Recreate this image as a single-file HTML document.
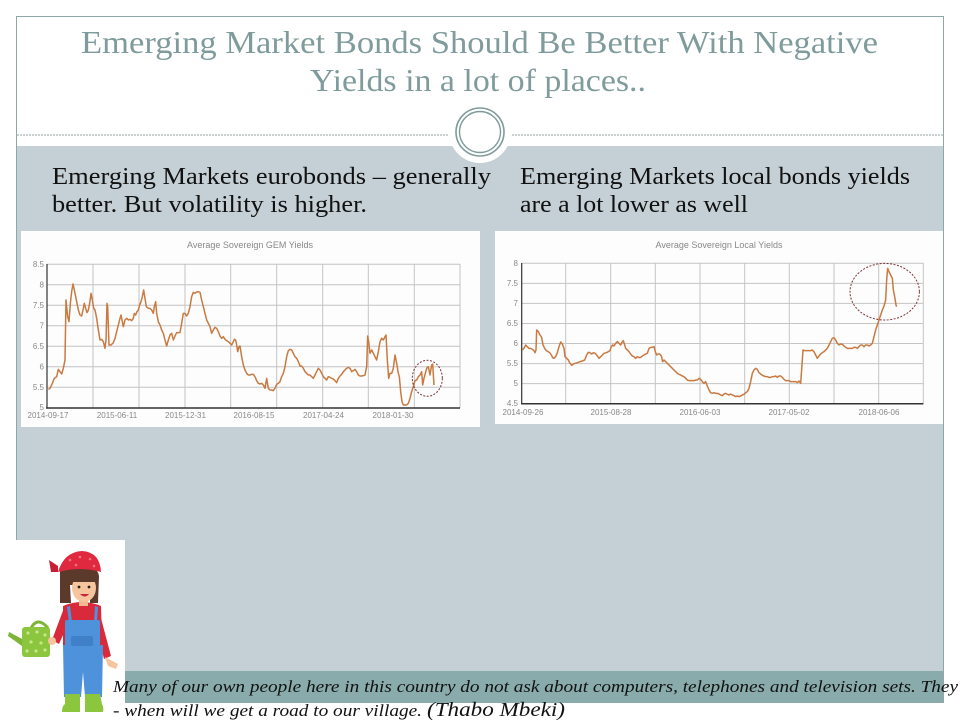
<!DOCTYPE html>
<html><head><meta charset="utf-8"><style>
html,body{margin:0;padding:0;background:#fff;width:960px;height:720px;overflow:hidden}
svg{display:block}
</style></head><body>
<svg width="960" height="720" viewBox="0 0 960 720" xmlns="http://www.w3.org/2000/svg">
<rect x="0" y="0" width="960" height="720" fill="#fff"/>
<!-- frame -->
<line x1="16.5" y1="16" x2="16.5" y2="540" stroke="#8fa7a7" stroke-width="1"/>
<line x1="16" y1="16.5" x2="943.5" y2="16.5" stroke="#8fa7a7" stroke-width="1"/>
<line x1="943.5" y1="16" x2="943.5" y2="703" stroke="#8fa7a7" stroke-width="1"/>
<!-- title -->
<g font-family="Liberation Serif, serif" fill="#7f9b9b" font-size="32">
<text x="81" y="53" textLength="797" lengthAdjust="spacingAndGlyphs">Emerging Market Bonds Should Be Better With Negative</text>
<text x="310" y="91" textLength="336" lengthAdjust="spacingAndGlyphs">Yields in a lot of places..</text>
</g>
<!-- dashed line -->
<line x1="17" y1="135" x2="943" y2="135" stroke="#9aa6a6" stroke-width="1" stroke-dasharray="2,1"/>
<!-- panel -->
<rect x="17" y="146" width="926" height="525" fill="#c5d0d6"/>
<!-- circle ornament -->
<circle cx="480" cy="132" r="31" fill="#fff"/>
<circle cx="480" cy="132" r="24" fill="none" stroke="#7f9a9a" stroke-width="1.6"/>
<circle cx="480" cy="132" r="20.5" fill="none" stroke="#7f9a9a" stroke-width="1.4"/>
<!-- subheads -->
<g font-family="Liberation Serif, serif" fill="#111" font-size="24">
<text x="52" y="184" textLength="439" lengthAdjust="spacingAndGlyphs">Emerging Markets eurobonds – generally</text>
<text x="52" y="212" textLength="315" lengthAdjust="spacingAndGlyphs">better. But volatility is higher.</text>
<text x="520" y="184" textLength="390" lengthAdjust="spacingAndGlyphs">Emerging Markets local bonds yields</text>
<text x="520" y="212" textLength="228" lengthAdjust="spacingAndGlyphs">are a lot lower as well</text>
</g>

<!-- LEFT CHART -->
<rect x="21" y="231" width="459" height="196" fill="#fdfdfd"/>
<text x="250" y="248" font-family="Liberation Sans, sans-serif" font-size="9" fill="#888" text-anchor="middle">Average Sovereign GEM Yields</text>
<g stroke="#c4c4c4" stroke-width="1">
<line x1="47" y1="264.3" x2="460" y2="264.3"/>
<line x1="47" y1="284.8" x2="460" y2="284.8"/>
<line x1="47" y1="305.3" x2="460" y2="305.3"/>
<line x1="47" y1="325.8" x2="460" y2="325.8"/>
<line x1="47" y1="346.3" x2="460" y2="346.3"/>
<line x1="47" y1="366.8" x2="460" y2="366.8"/>
<line x1="47" y1="387.2" x2="460" y2="387.2"/>
<line x1="93" y1="264" x2="93" y2="408"/>
<line x1="139" y1="264" x2="139" y2="408"/>
<line x1="185" y1="264" x2="185" y2="408"/>
<line x1="230.7" y1="264" x2="230.7" y2="408"/>
<line x1="276.7" y1="264" x2="276.7" y2="408"/>
<line x1="322.7" y1="264" x2="322.7" y2="408"/>
<line x1="368.3" y1="264" x2="368.3" y2="408"/>
<line x1="414.3" y1="264" x2="414.3" y2="408"/>
<line x1="460" y1="264" x2="460" y2="408"/>
</g>
<line x1="47" y1="264" x2="47" y2="408.5" stroke="#333" stroke-width="1.2"/>
<line x1="46" y1="408" x2="460" y2="408" stroke="#333" stroke-width="1.5"/>
<g font-family="Liberation Sans, sans-serif" font-size="8" fill="#888" text-anchor="end">
<text x="44" y="267">8.5</text><text x="44" y="287.5">8</text><text x="44" y="308">7.5</text><text x="44" y="328.5">7</text>
<text x="44" y="349">6.5</text><text x="44" y="369.5">6</text><text x="44" y="390">5.5</text><text x="44" y="410">5</text>
</g>
<g font-family="Liberation Sans, sans-serif" font-size="8" fill="#888" text-anchor="middle">
<text x="48" y="418">2014-09-17</text><text x="117" y="418">2015-06-11</text><text x="185.5" y="418">2015-12-31</text>
<text x="254" y="418">2016-08-15</text><text x="323.5" y="418">2017-04-24</text><text x="393" y="418">2018-01-30</text>
</g>
<g transform="translate(45,260) scale(0.33333)">
<polyline fill="none" stroke="#c97a41" stroke-width="1.5" vector-effect="non-scaling-stroke" stroke-linejoin="round" points="10,388 15,385 22,370 28,355 35,350 40,328 45,335 50,342 55,325 60,300 63,120 68,170 72,185 76,130 80,95 84,72 88,90 92,110 96,130 100,150 105,165 110,168 114,150 118,130 122,145 126,158 130,150 134,130 138,100 142,120 146,145 150,150 155,175 160,210 165,240 170,238 175,245 180,265 183,240 186,130 188,140 192,255 198,255 205,248 210,235 215,215 220,195 225,175 228,165 232,185 235,200 240,180 245,175 250,180 255,178 260,182 265,175 268,160 272,165 276,155 280,150 284,135 288,125 292,110 296,90 300,115 304,140 310,145 315,145 320,150 325,160 328,140 332,125 335,160 340,185 345,195 350,210 355,220 360,240 365,258 370,240 375,225 380,220 385,240 390,228 395,218 400,218 405,218 410,190 415,160 420,160 425,168 430,160 435,140 440,110 445,97 450,100 455,96 460,95 465,97 470,120 475,140 480,160 485,180 490,190 495,200 500,220 505,210 510,202 515,205 520,215 525,228 530,235 535,230 540,238 545,242 550,245 555,250 560,255 565,245 568,238 572,240 575,255 578,275 582,260 585,258 590,290 595,315 600,330 605,340 610,345 615,345 620,343 625,343 630,350 630,350"/>
</g>
<g transform="translate(250,260) scale(0.33333)">
<polyline fill="none" stroke="#c97a41" stroke-width="1.5" vector-effect="non-scaling-stroke" stroke-linejoin="round" points="15,350 20,362 25,370 30,372 35,370 40,375 45,385 50,355 55,385 60,390 65,390 70,392 75,385 80,373 85,370 90,365 95,350 100,340 105,320 110,290 115,272 120,268 125,270 130,280 135,290 140,295 145,305 150,318 155,318 160,325 165,335 170,340 175,345 180,345 185,350 190,355 195,345 200,335 205,325 210,330 215,340 220,350 225,355 230,360 235,350 240,352 245,355 250,357 255,362 260,368 265,355 270,348 275,343 280,335 285,330 290,325 295,322 300,325 305,335 310,332 315,328 320,335 325,345 330,348 335,348 340,347 345,345 350,320 353,228 356,245 360,280 365,270 370,280 375,290 380,300 385,275 390,245 395,235 400,240 405,230 408,225 412,300 416,355 420,340 425,340 430,325 435,285 440,310 445,340 448,350 452,395 456,425 460,435 465,435 470,435 475,430 480,415 485,395 490,380 495,362 500,360 505,350 510,345 515,335 518,375 522,355 526,340 530,325 535,320 540,345 545,315 548,312 552,375"/>
</g>
<ellipse cx="427.3" cy="378.3" rx="15" ry="18" fill="none" stroke="#7a3535" stroke-width="1" stroke-dasharray="2,1.5"/>

<!-- RIGHT CHART -->
<rect x="495" y="231" width="448" height="193" fill="#fdfdfd"/>
<text x="719" y="248" font-family="Liberation Sans, sans-serif" font-size="9" fill="#888" text-anchor="middle">Average Sovereign Local Yields</text>
<g stroke="#c4c4c4" stroke-width="1">
<line x1="521.7" y1="263.3" x2="923.3" y2="263.3"/>
<line x1="521.7" y1="283.4" x2="923.3" y2="283.4"/>
<line x1="521.7" y1="303.4" x2="923.3" y2="303.4"/>
<line x1="521.7" y1="323.5" x2="923.3" y2="323.5"/>
<line x1="521.7" y1="343.5" x2="923.3" y2="343.5"/>
<line x1="521.7" y1="363.6" x2="923.3" y2="363.6"/>
<line x1="521.7" y1="383.6" x2="923.3" y2="383.6"/>
<line x1="565.7" y1="263" x2="565.7" y2="404"/>
<line x1="610.7" y1="263" x2="610.7" y2="404"/>
<line x1="655.3" y1="263" x2="655.3" y2="404"/>
<line x1="700" y1="263" x2="700" y2="404"/>
<line x1="744.7" y1="263" x2="744.7" y2="404"/>
<line x1="789.3" y1="263" x2="789.3" y2="404"/>
<line x1="834" y1="263" x2="834" y2="404"/>
<line x1="878.7" y1="263" x2="878.7" y2="404"/>
<line x1="923.3" y1="263" x2="923.3" y2="404"/>
</g>
<line x1="521.7" y1="263" x2="521.7" y2="404" stroke="#333" stroke-width="1.2"/>
<line x1="521" y1="403.7" x2="923.3" y2="403.7" stroke="#333" stroke-width="1.5"/>
<g font-family="Liberation Sans, sans-serif" font-size="8" fill="#888" text-anchor="end">
<text x="518" y="266">8</text><text x="518" y="286">7.5</text><text x="518" y="306">7</text><text x="518" y="326">6.5</text>
<text x="518" y="346">6</text><text x="518" y="366">5.5</text><text x="518" y="386">5</text><text x="518" y="406">4.5</text>
</g>
<g font-family="Liberation Sans, sans-serif" font-size="8" fill="#888" text-anchor="middle">
<text x="523" y="415">2014-09-26</text><text x="611" y="415">2015-08-28</text><text x="700" y="415">2016-06-03</text>
<text x="789" y="415">2017-05-02</text><text x="879" y="415">2018-06-06</text>
</g>
<g transform="translate(494,230) scale(0.33333)">
<polyline fill="none" stroke="#c97a41" stroke-width="1.5" vector-effect="non-scaling-stroke" stroke-linejoin="round" points="85,360 90,355 95,345 100,350 105,355 110,355 115,358 120,362 123,368 126,360 128,300 133,305 138,315 143,322 147,345 152,355 157,362 162,365 167,368 172,375 176,383 180,385 185,380 190,368 195,350 200,336 205,342 210,355 213,380 218,385 223,390 228,400 233,406 238,402 243,400 250,398 258,395 265,393 272,390 278,375 283,367 288,368 293,372 298,368 303,370 308,375 315,385 320,380 325,375 330,370 337,368 343,365 348,362 352,350 356,345 360,348 365,340 370,335 375,340 380,345 385,335 388,332 392,345 395,355 400,360 405,365 410,372 415,378 420,380 425,385 430,380 435,383 440,382 445,378 450,375 455,372 460,370 465,355 470,352 475,352 480,350 484,365 488,375 492,372 497,372 502,378 506,395 510,390 515,395 520,400 525,405 530,410 535,415 540,420 545,425 550,430 555,433 560,435 565,438 570,440 575,445 580,450 585,452 590,452 595,452 600,452 605,450 610,450 615,445 620,448 625,455 630,460 635,455 640,468 645,480 650,488 655,490 660,488 665,490 670,490 675,492 680,495 685,497 690,492 695,490 700,493 705,495 710,492 715,495 720,497 725,500 730,498 735,500 740,498 745,495 750,493 755,488 760,485 765,475 770,455 775,430 780,420 785,415 790,418 795,428 800,432 805,436 810,438 815,440 820,440 825,442 830,442 835,440 840,440 845,438 850,442 855,438 860,438 865,442 870,448 875,452 880,452 885,452 890,455 895,455 900,455 905,455 910,458 915,453 920,460 925,390 927,360 932,362 940,362 950,362 955,360 960,365 965,375 970,385 975,378 980,372 985,368 990,365 995,360 1000,355 1005,345 1010,335 1015,325 1020,323 1025,330 1030,340 1035,345 1040,342 1045,343 1050,348 1055,352 1060,355 1065,355 1070,355 1075,355 1080,352 1085,352 1090,355 1095,350 1100,345 1105,345 1110,350 1115,345 1120,345 1125,348 1130,345 1135,340 1140,320 1145,300 1150,285 1155,270 1160,255 1165,240 1170,228 1175,210 1178,150 1181,115 1185,125 1190,135 1195,145 1198,180 1202,200 1206,225 1208,230"/>
</g>
<ellipse cx="884.7" cy="291.7" rx="34.7" ry="28.3" fill="none" stroke="#7a3535" stroke-width="1" stroke-dasharray="2,1.5"/>

<!-- bottom white box & teal band -->
<rect x="0" y="540" width="125" height="180" fill="#fff"/>
<rect x="125" y="671" width="818" height="32" fill="#8aabab"/>

<!-- cartoon girl -->
<g>
<path d="M24,640 L9,632 L8,636 L22,646 Z" fill="#7db536"/>
<path d="M30,630 Q37,615 48,628" fill="none" stroke="#7db536" stroke-width="3"/>
<rect x="22" y="627" width="28" height="30" rx="3" fill="#8cc63f"/>
<g fill="#c8e68a"><circle cx="28" cy="633" r="1.6"/><circle cx="37" cy="632" r="1.6"/><circle cx="45" cy="635" r="1.6"/><circle cx="31" cy="642" r="1.6"/><circle cx="41" cy="643" r="1.6"/><circle cx="27" cy="651" r="1.6"/><circle cx="36" cy="651" r="1.6"/><circle cx="45" cy="650" r="1.6"/></g>
<path d="M64,608 L52,640 L59,644 L72,615 Z" fill="#d92a3c"/>
<circle cx="52" cy="641" r="4" fill="#f6c59e"/>
<path d="M98,607 L111,656 L104,659 L93,614 Z" fill="#d92a3c"/>
<path d="M105,657 L118,664 L116,669 L108,666 Z" fill="#f6c59e"/>
<path d="M63,606 Q82,598 101,606 L102,645 L63,645 Z" fill="#d92a3c"/>
<rect x="65" y="620" width="35" height="30" rx="2" fill="#4f92dc"/>
<path d="M63,645 L103,645 L102,697 L85,697 L83,672 L81,697 L64,697 Z" fill="#4f92dc"/>
<rect x="71" y="636" width="22" height="10" rx="2" fill="#3f80c8"/>
<path d="M70,606 L72,622 L69,622 L67,607 Z" fill="#4f92dc"/>
<path d="M95,606 L94,622 L97,622 L98,607 Z" fill="#4f92dc"/>
<path d="M65,694 L80,694 L80,712 L62,712 Q62,706 65,704 Z" fill="#8cc63f"/>
<path d="M85,694 L100,694 L102,704 Q104,708 103,712 L85,712 Z" fill="#8cc63f"/>
<rect x="79" y="596" width="9" height="10" fill="#f1b98f"/>
<path d="M60,572 Q62,566 80,566 Q98,566 99,576 L98,603 L90,603 L90,585 L70,585 L71,603 L60,603 Z" fill="#5b3a2b"/>
<ellipse cx="84" cy="588" rx="12" ry="14" fill="#f6c59e"/>
<path d="M71,574 L97,574 L97,582 L71,582 Z" fill="#5b3a2b"/>
<circle cx="79" cy="587" r="1.4" fill="#222"/><circle cx="89" cy="587" r="1.4" fill="#222"/>
<path d="M80,594 Q85,599 89,594 Z" fill="#c2283a"/>
<path d="M58,572 Q64,552 82,551 Q100,552 101,572 Q80,566 58,572 Z" fill="#e0283f"/>
<path d="M58,566 L49,560 L51,572 L58,572 Z" fill="#c81f34"/>
<g fill="#f07383"><circle cx="70" cy="560" r="1.3"/><circle cx="80" cy="557" r="1.3"/><circle cx="90" cy="559" r="1.3"/><circle cx="76" cy="565" r="1.3"/><circle cx="94" cy="566" r="1.3"/></g>
</g>

<!-- quote -->
<g font-family="Liberation Serif, serif" font-style="italic" fill="#111">
<text x="113" y="692" font-size="17" textLength="845" lengthAdjust="spacingAndGlyphs">Many of our own people here in this country do not ask about computers, telephones and television sets. They</text>
<text x="113" y="716" font-size="17" textLength="309" lengthAdjust="spacingAndGlyphs">- when will we get a road to our village.</text>
<text x="427" y="716" font-size="20" textLength="138" lengthAdjust="spacingAndGlyphs">(Thabo Mbeki)</text>
</g>
</svg>
</body></html>
